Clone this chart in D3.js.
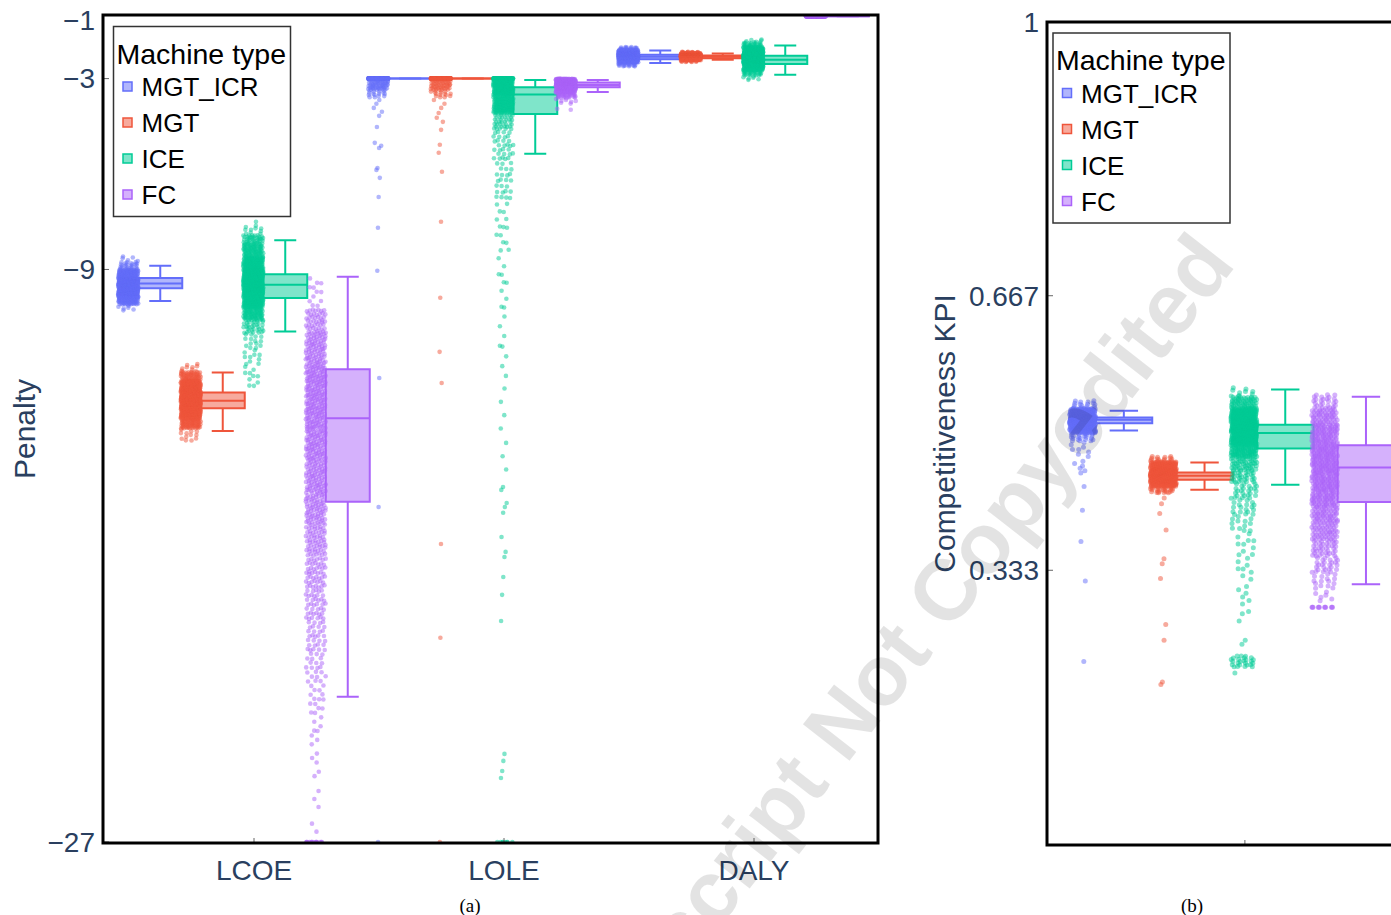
<!DOCTYPE html>
<html>
<head>
<meta charset="utf-8">
<script src="https://cdn.jsdelivr.net/npm/d3@7"></script>
<style>
  body { margin: 0; background: #fff; }
  svg { display: block; font-family: Arial, 'Liberation Sans', sans-serif; }
</style>
</head>
<body>
<svg id="chart" width="1391" height="915"></svg>
<script>
const categories = ['LCOE', 'LOLE', 'DALY'];
const kpiCategories = [''];
const machineTypes = ['MGT_ICR', 'MGT', 'ICE', 'FC'];
const colors = ['#636efa', '#EF553B', '#00cc96', '#ab63fa'];

const penaltyTicks = [-1, -3, -9, -27];
const kpiTicks = [0.333, 0.667, 1];

// box stats per machine type: [lower whisker, q1, median, q3, upper whisker]
const lcoeBoxes = [
  [-9.99, -9.59, -9.44, -9.27, -8.88],
  [-14.08, -13.36, -13.13, -12.87, -12.24],
  [-10.95, -9.90, -9.48, -9.15, -8.08],
  [-22.43, -16.30, -13.68, -12.14, -9.23]
];
const loleBoxes = [
  [-3, -3, -3, -3, -3],
  [-3, -3, -3, -3, -3],
  [-5.36, -4.11, -3.50, -3.27, -3.04],
  [-3.42, -3.27, -3.20, -3.12, -3.04]
];
const dalyBoxes = [
  [-2.51, -2.39, -2.31, -2.25, -2.12],
  [-2.41, -2.36, -2.31, -2.27, -2.21],
  [-2.88, -2.54, -2.41, -2.28, -1.96],
  [-1.04, -1.04, -1.04, -1.04, -1.04]
];
const kpiBoxes = [
  [0.503, 0.512, 0.516, 0.519, 0.527],
  [0.431, 0.443, 0.448, 0.452, 0.464],
  [0.437, 0.481, 0.500, 0.510, 0.553],
  [0.316, 0.416, 0.458, 0.485, 0.544]
];

const lcoeBins = [
  [[-10.30, -10.10, 6], [-10.10, -9.90, 60], [-9.90, -9.60, 250], [-9.60, -9.30, 250], [-9.30, -9.00, 120], [-9.00, -8.75, 25], [-8.75, -8.55, 5]],
  [[-14.40, -14.00, 12], [-14.00, -13.70, 70], [-13.70, -13.40, 150], [-13.40, -13.10, 220], [-13.10, -12.80, 220], [-12.80, -12.50, 150], [-12.50, -12.20, 60], [-12.20, -11.95, 8]],
  [[-12.70, -12.00, 10], [-12.00, -11.50, 10], [-11.50, -11.00, 14], [-11.00, -10.60, 30], [-10.60, -10.20, 80], [-10.20, -9.80, 150], [-9.80, -9.40, 200], [-9.40, -9.00, 200], [-9.00, -8.60, 130], [-8.60, -8.20, 80], [-8.20, -7.90, 40], [-7.90, -7.60, 10]],
  [[-27, -27, 15], [-26.8, -25, 5], [-25, -24, 5], [-24, -23, 8], [-23, -22, 15], [-22, -21, 22], [-21, -20, 30], [-20, -19, 40], [-19, -18, 50], [-18, -17, 65], [-17, -16, 80], [-16, -15, 90], [-15, -14, 100], [-14, -13, 110], [-13, -12, 110], [-12, -11, 90], [-11, -10.2, 50], [-10.2, -9.2, 12]]
];
const loleBins = [
  [[-3, -3, 300], [-3.35, -3.0, 60], [-3.6, -3.35, 15]],
  [[-3, -3, 300], [-3.35, -3.0, 50], [-3.6, -3.35, 15]],
  [[-3, -3, 120], [-3.5, -3.0, 200], [-4.1, -3.5, 150], [-4.6, -4.1, 35], [-5.55, -4.6, 30], [-6.8, -5.55, 25], [-8.5, -6.8, 15], [-10.3, -8.5, 10], [-12.5, -10.3, 8], [-15.5, -12.5, 7], [-27, -27, 8]],
  [[-3.15, -3.0, 150], [-3.3, -3.15, 150], [-3.45, -3.3, 80], [-3.6, -3.45, 30], [-3.8, -3.6, 8]]
];
const dalyBins = [
  [[-2.62, -2.5, 20], [-2.5, -2.4, 80], [-2.4, -2.3, 150], [-2.3, -2.2, 150], [-2.2, -2.1, 80], [-2.1, -2.0, 20]],
  [[-2.48, -2.42, 15], [-2.42, -2.36, 80], [-2.36, -2.31, 200], [-2.31, -2.26, 200], [-2.26, -2.2, 80], [-2.2, -2.15, 15]],
  [[-3.05, -2.9, 6], [-2.9, -2.75, 25], [-2.75, -2.6, 80], [-2.6, -2.45, 150], [-2.45, -2.3, 180], [-2.3, -2.15, 150], [-2.15, -2.0, 80], [-2.0, -1.85, 25], [-1.85, -1.75, 5]],
  [[-1.04, -1.04, 200]]
];
const kpiBins = [
  [[0.450, 0.470, 6], [0.470, 0.490, 8], [0.490, 0.500, 20], [0.500, 0.510, 120], [0.510, 0.520, 220], [0.520, 0.530, 120], [0.530, 0.540, 15]],
  [[0.427, 0.435, 25], [0.435, 0.445, 150], [0.445, 0.455, 220], [0.455, 0.465, 120], [0.465, 0.472, 15]],
  [[0.215, 0.230, 25], [0.270, 0.290, 3], [0.290, 0.320, 6], [0.320, 0.350, 8], [0.350, 0.380, 10], [0.380, 0.400, 12], [0.400, 0.420, 18], [0.420, 0.440, 25], [0.440, 0.455, 30], [0.455, 0.470, 45], [0.470, 0.485, 90], [0.485, 0.500, 150], [0.500, 0.515, 200], [0.515, 0.530, 150], [0.530, 0.545, 60], [0.545, 0.556, 8]],
  [[0.288, 0.288, 12], [0.295, 0.310, 6], [0.310, 0.330, 15], [0.330, 0.350, 25], [0.350, 0.370, 35], [0.370, 0.390, 50], [0.390, 0.410, 60], [0.410, 0.430, 75], [0.430, 0.450, 85], [0.450, 0.470, 90], [0.470, 0.490, 90], [0.490, 0.510, 80], [0.510, 0.530, 60], [0.530, 0.548, 25]]
];

// single stray samples
const lcoeSingles = [[], [], [-7.5], []];
const loleSingles = [
  [-3.67, -3.79, -3.92, -4.04, -4.17, -4.52, -5.02, -5.11, -5.18, -5.81, -5.87, -6.12, -6.72, -7.69, -9.04, -12.41, -16.47, -27],
  [-3.67, -3.79, -3.92, -4.08, -4.23, -4.36, -4.61, -5.08, -5.33, -5.93, -7.5, -9.89, -11.59, -12.57, -17.63, -20.58, -27],
  [-15.84, -15.93, -16.34, -16.47, -16.65, -17.41, -17.88, -18.04, -18.67, -19.23, -20.05, -24.23, -24.45, -24.77, -24.99],
  [-3.95, -3.98]
];
const dalySingles = [[], [], [], []];
const kpiSingles = [
  [0.435, 0.406, 0.368, 0.320, 0.222],
  [0.421, 0.414, 0.402, 0.382, 0.347, 0.341, 0.323, 0.267, 0.248, 0.197, 0.194],
  [0.248, 0.243, 0.208],
  []
];

const svg = d3.select('#chart');
const tickColor = '#2a3f5f';

// spread the samples of one box the way plotly jitters "all" points
function makeCloud(bins, singles, y) {
  const pts = [];
  let idx = 0;
  bins.forEach(([lo, hi, n]) => {
    for (let k = 0; k < n; k++) {
      const t = (0.5 + k * 0.5698403) % 1;
      pts.push({ v: lo + (hi - lo) * t, u: (0.5 + idx++ * 0.7548777) % 1 });
    }
  });
  singles.forEach(v => pts.push({ v, u: (0.5 + idx++ * 0.7548777) % 1 }));
  pts.forEach(p => { p.py = y(p.v); });
  pts.sort((a, b) => a.py - b.py);

  const minSpacing = 1.5;
  let maxF = 0;
  pts.forEach((p, i) => {
    const i0 = Math.max(0, i - 5);
    const i1 = Math.min(pts.length - 1, i + 5);
    const span = pts[i1].py - pts[i0].py;
    p.f = Math.min(1, Math.sqrt(minSpacing * (i1 - i0) / (span + minSpacing)));
    maxF = Math.max(maxF, p.f);
  });
  pts.forEach(p => { p.f = maxF ? p.f / maxF : 1; });
  return pts;
}

function drawLegend(lx, ly) {
  const lg = svg.append('g').attr('transform', `translate(${lx},${ly})`);
  lg.append('rect')
    .attr('width', 177).attr('height', 190)
    .attr('fill', '#fff').attr('stroke', '#333').attr('stroke-width', 1.5);
  lg.append('text')
    .attr('x', 3).attr('y', 37)
    .attr('font-size', 28.5).attr('fill', '#000')
    .text('Machine type');
  const item = lg.selectAll('.item')
    .data(machineTypes)
    .join('g')
    .attr('transform', (d, i) => `translate(0,${60 + i * 36})`);
  item.append('rect')
    .attr('x', 9.5).attr('y', -4.5).attr('width', 9).attr('height', 9)
    .attr('fill', (d, i) => colors[i]).attr('fill-opacity', 0.5)
    .attr('stroke', (d, i) => colors[i]).attr('stroke-width', 1.5);
  item.append('text')
    .attr('x', 28).attr('y', 9.5)
    .attr('font-size', 26).attr('fill', '#000')
    .text(d => d);
}

function drawPanel(cfg) {
  const x = d3.scaleLinear().domain(cfg.xDomain).range([cfg.left, cfg.right]);
  const y = d3.scaleLinear().domain(cfg.yDomain).range([cfg.bottom - 1, cfg.top]);
  const unit = x(1) - x(0);
  const hw = unit * 0.088;

  svg.append('clipPath').attr('id', cfg.id)
    .append('rect')
    .attr('x', cfg.left).attr('y', cfg.top)
    .attr('width', cfg.right - cfg.left).attr('height', cfg.bottom - cfg.top);

  const plot = svg.append('g').attr('clip-path', `url(#${cfg.id})`);

  machineTypes.forEach((type, ti) => {
    cfg.labels.forEach((cat, ci) => {
      const cx = x(ci + (ti - 1.5) * 0.25);
      const [lo, q1, med, q3, hi] = cfg.boxes[ci][ti].map(y);
      const box = plot.append('g')
        .attr('stroke', colors[ti]).attr('stroke-width', 2).attr('fill', 'none');

      box.append('path')
        .attr('d', `M${cx},${q3}V${hi}M${cx - hw / 2},${hi}H${cx + hw / 2}` +
                   `M${cx},${q1}V${lo}M${cx - hw / 2},${lo}H${cx + hw / 2}`);
      box.append('path')
        .attr('d', `M${cx - hw},${q3}H${cx + hw}V${q1}H${cx - hw}Z`)
        .attr('fill', colors[ti]).attr('fill-opacity', 0.5);
      box.append('path')
        .attr('d', `M${cx - hw},${med}H${cx + hw}`);

      const pts = makeCloud(cfg.bins[ci][ti], cfg.singles[ci][ti], y);
      const px = cx - unit * 0.128;
      const jit = unit * 0.04;
      plot.append('g').selectAll('circle')
        .data(pts)
        .join('circle')
        .attr('cx', d => px + (2 * d.u - 1) * jit * d.f)
        .attr('cy', d => d.py)
        .attr('r', cfg.r)
        .attr('fill', colors[ti])
        .attr('fill-opacity', 0.5);
    });
  });

  // ticks inside the frame
  const axis = svg.append('g').attr('stroke', '#666').attr('stroke-width', 1);
  axis.selectAll('.yt').data(cfg.ticks).join('line')
    .attr('x1', cfg.left).attr('x2', cfg.left + 6)
    .attr('y1', d => y(d)).attr('y2', d => y(d));
  axis.selectAll('.xt').data(cfg.labels).join('line')
    .attr('x1', (d, i) => x(i)).attr('x2', (d, i) => x(i))
    .attr('y1', cfg.bottom).attr('y2', cfg.bottom - 5);

  svg.append('rect')
    .attr('x', cfg.left).attr('y', cfg.top)
    .attr('width', cfg.right - cfg.left).attr('height', cfg.bottom - cfg.top)
    .attr('fill', 'none').attr('stroke', '#000').attr('stroke-width', 3);

  svg.append('g').selectAll('text')
    .data(cfg.ticks)
    .join('text')
    .attr('x', cfg.left - 8)
    .attr('y', d => Math.max(y(d), cfg.labelMinY))
    .attr('dy', '0.35em')
    .attr('text-anchor', 'end')
    .attr('font-size', 28)
    .attr('fill', tickColor)
    .text(d => String(d).replace('-', '\u2212'));

  svg.append('g').selectAll('text')
    .data(cfg.labels)
    .join('text')
    .attr('x', (d, i) => x(i))
    .attr('y', cfg.bottom + 37)
    .attr('text-anchor', 'middle')
    .attr('font-size', 28)
    .attr('fill', tickColor)
    .text(d => d);

  svg.append('text')
    .attr('transform', `translate(${cfg.titleX},${(cfg.top + cfg.bottom) / 2}) rotate(-90)`)
    .attr('text-anchor', 'middle')
    .attr('font-size', 30)
    .attr('fill', tickColor)
    .text(cfg.title);

  drawLegend(cfg.legend[0], cfg.legend[1]);

  svg.append('text')
    .attr('x', cfg.caption[0]).attr('y', 912)
    .attr('text-anchor', 'middle')
    .attr('font-family', "'Times New Roman', 'Liberation Serif', serif")
    .attr('font-size', 19)
    .attr('fill', '#000')
    .text(cfg.caption[1]);
}

drawPanel({
  id: 'clipA',
  left: 103, right: 878, top: 15, bottom: 843,
  xDomain: [-0.604, 2.496],
  yDomain: [-27, -1],
  ticks: penaltyTicks,
  labelMinY: 20,
  labels: categories,
  boxes: [lcoeBoxes, loleBoxes, dalyBoxes],
  bins: [lcoeBins, loleBins, dalyBins],
  singles: [lcoeSingles, loleSingles, dalySingles],
  r: 2.3,
  title: 'Penalty',
  titleX: 35,
  legend: [113.5, 26.5],
  caption: [470, '(a)']
});

drawPanel({
  id: 'clipB',
  left: 1047, right: 2052, top: 22, bottom: 845,
  xDomain: [-0.613, 2.5],
  yDomain: [0, 1],
  ticks: kpiTicks,
  labelMinY: 0,
  labels: kpiCategories,
  boxes: [kpiBoxes],
  bins: [kpiBins],
  singles: [kpiSingles],
  r: 2.5,
  title: 'Competitiveness KPI',
  titleX: 955,
  legend: [1053, 33],
  caption: [1192, '(b)']
});

// publisher watermark over the figure
svg.append('text')
  .attr('transform', 'translate(893,705) rotate(-52)')
  .attr('text-anchor', 'middle')
  .attr('font-size', 86)
  .attr('font-weight', 'bold')
  .attr('fill', '#000')
  .attr('fill-opacity', 0.11)
  .text('Manuscript Not Copyedited');
</script>
</body>
</html>
